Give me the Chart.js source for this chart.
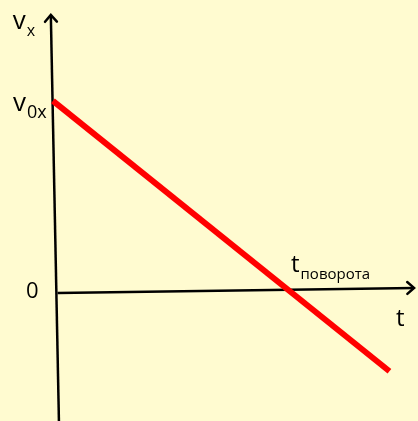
<!DOCTYPE html>
<html>
<head>
<meta charset="utf-8">
<script src="https://cdn.jsdelivr.net/npm/chart.js@4/dist/chart.umd.min.js"></script>
<style>
  html, body { margin: 0; padding: 0; background: #FFFBD0; }
  #chart_1 { display: block; }
</style>
</head>
<body>
<canvas id="chart_1" width="418" height="421"></canvas>
<script>
// velocity line v(t) = v0x * (1 - t / t_turn)
const lineT = [0, 1.45];
const lineV = [1, -0.43];

// axes (slightly tilted, as hand-drawn in the picture)
const tAxisT = [0.02, 1.556];
const tAxisV = [-0.016, 0.011];
const vAxisT = [0.026, -0.009];
const vAxisV = [-0.7, 1.455];

// value of the turning point and the start velocity
const tTurn = 1;
const v0x = 1;

// label texts: [main, subscript]
const labelVx = ['v', 'x'];
const labelV0x = ['v', '0x'];
const labelZero = ['0', ''];
const labelT = ['t', ''];
const labelTurn = ['t', 'поворота'];

function toPoints(xs, ys) {
    return xs.map((x, i) => ({ x: x, y: ys[i] }));
}

const FONT = '"Open Sans", "DejaVu Sans", sans-serif';

function drawLabel(ctx, parts, x, y, size, subSize) {
    ctx.font = size + 'px ' + FONT;
    ctx.fillStyle = '#000';
    ctx.textBaseline = 'alphabetic';
    ctx.textAlign = 'left';
    ctx.fillText(parts[0], x, y);
    let w = ctx.measureText(parts[0]).width;
    if (parts[1]) {
        ctx.font = subSize + 'px ' + FONT;
        ctx.fillText(parts[1], x + w + 1, y + size * 0.28);
    }
}

function arrowHead(ctx, from, to) {
    let ang = Math.atan2(to.y - from.y, to.x - from.x);
    let len = 9, spread = 0.72;
    ctx.save();
    ctx.strokeStyle = '#000';
    ctx.lineWidth = 2.5;
    ctx.lineCap = 'round';
    ctx.beginPath();
    ctx.moveTo(to.x - len * Math.cos(ang - spread), to.y - len * Math.sin(ang - spread));
    ctx.lineTo(to.x, to.y);
    ctx.lineTo(to.x - len * Math.cos(ang + spread), to.y - len * Math.sin(ang + spread));
    ctx.stroke();
    ctx.restore();
}

const decorations = {
    id: 'decorations',
    afterDatasetsDraw(chart) {
        const ctx = chart.ctx;
        const xs = chart.scales.x, ys = chart.scales.y;
        // arrows at the ends of both axes
        [1, 2].forEach(i => {
            let pts = chart.getDatasetMeta(i).data;
            arrowHead(ctx, pts[0], pts[pts.length - 1]);
        });
        let vTop = chart.getDatasetMeta(2).data[1];
        let tEnd = chart.getDatasetMeta(1).data[1];
        drawLabel(ctx, labelVx, vTop.x - 38, vTop.y + 14, 26, 16);
        drawLabel(ctx, labelV0x, xs.getPixelForValue(0) - 40, ys.getPixelForValue(v0x) + 10, 26, 18);
        drawLabel(ctx, labelZero, xs.getPixelForValue(0) - 27, ys.getPixelForValue(0) + 8, 22, 14);
        drawLabel(ctx, labelT, tEnd.x - 18, tEnd.y + 38, 24, 14);
        drawLabel(ctx, labelTurn, xs.getPixelForValue(tTurn) + 6, ys.getPixelForValue(0) - 18, 24, 15);
    }
};

new Chart('chart_1', {
    type: 'scatter',
    data: {
        datasets: [
            { data: toPoints(lineT, lineV), showLine: true, borderColor: '#FF0000', borderWidth: 6, pointRadius: 0, borderCapStyle: 'butt' },
            { data: toPoints(tAxisT, tAxisV), showLine: true, borderColor: '#000', borderWidth: 2.5, pointRadius: 0 },
            { data: toPoints(vAxisT, vAxisV), showLine: true, borderColor: '#000', borderWidth: 2.5, pointRadius: 0 },
        ]
    },
    options: {
        responsive: false,
        animation: false,
        layout: { padding: 0 },
        plugins: { legend: { display: false }, tooltip: { enabled: false } },
        scales: {
            x: { type: 'linear', display: false, min: -0.228, max: 1.573 },
            y: { type: 'linear', display: false, min: -0.693, max: 1.534 }
        }
    },
    plugins: [decorations]
});
</script>
</body>
</html>
